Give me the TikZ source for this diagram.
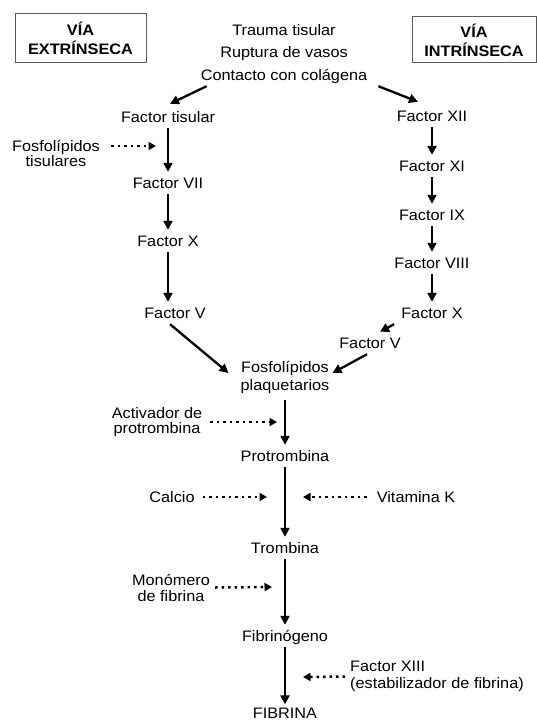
\documentclass[tikz,border=0pt]{standalone}
\usepackage{fontspec}
\setmainfont{Liberation Sans}[FakeStretch=1.07]
\usetikzlibrary{arrows.meta}
\begin{document}
\begin{tikzpicture}[x=1pt,y=-1pt,
  every node/.style={font=\fontsize{15.2}{18}\selectfont, inner xsep=1pt, inner ysep=5.5pt},
  lbl/.style={text height=11pt, text depth=0pt},
  multi/.style={align=center},
  arr/.style={line width=2.3pt, -{Triangle[length=9pt,width=9pt]}},
  dots/.style={line width=2.5pt, dash pattern=on 2.5pt off 4pt, -{Triangle[length=7.5pt,width=8pt]}},
  pathbox/.style={draw=black!65, line width=1pt, font=\fontsize{15.2}{19}\selectfont\bfseries, align=center, inner sep=0pt}
]
\fill[white] (0,0) rectangle (537,722);
\useasboundingbox (0,0) rectangle (537,722);

% pathway boxes
\node[pathbox, minimum width=131pt, minimum height=49pt] (extr) at (80.5,38.5) {VÍA\\EXTRÍNSECA};
\node[pathbox, minimum width=124pt, minimum height=46pt] (intr) at (474,40) {VÍA\\INTRÍNSECA};

% top texts
\node[lbl] (t1) at (284,30) {Trauma tisular};
\node[lbl] (t2) at (284,52) {Ruptura de vasos};
\node[lbl] (t3) at (284,75) {Contacto con colágena};

% extrinsic path
\node[lbl] (ftis) at (168,117) {Factor tisular};
\node[multi, font=\fontsize{15.2}{15.5}\selectfont] (fosft) at (56,153.5) {Fosfolípidos\\tisulares};
\node[lbl] (f7) at (168,183) {Factor VII};
\node[lbl] (f10l) at (168,241) {Factor X};
\node[lbl] (f5l) at (175,313) {Factor V};

% intrinsic path
\node[lbl] (f12) at (432,116) {Factor XII};
\node[lbl] (f11) at (432,166) {Factor XI};
\node[lbl] (f9) at (432,215) {Factor IX};
\node[lbl] (f8) at (432,263) {Factor VIII};
\node[lbl] (f10r) at (432,313) {Factor X};
\node[lbl] (f5r) at (370,343) {Factor V};

% common path
\node[multi, font=\fontsize{15.2}{18.5}\selectfont] (fosfp) at (285,377.5) {Fosfolípidos\\plaquetarios};
\node[multi, font=\fontsize{15.2}{15}\selectfont] (act) at (157,422) {Activador de\\protrombina};
\node[lbl] (prot) at (285,456) {Protrombina};
\node[lbl] (calc) at (172,497) {Calcio};
\node[lbl] (vitk) at (416,497) {Vitamina K};
\node[lbl] (trom) at (285,548) {Trombina};
\node[multi, font=\fontsize{15.2}{16}\selectfont] (mono) at (171,587.5) {Monómero\\de fibrina};
\node[lbl] (fibg) at (285,636) {Fibrinógeno};
\node[align=left, anchor=west, font=\fontsize{15.2}{17}\selectfont] (f13) at (349,676.5) {Factor XIII\\(estabilizador de fibrina)};
\node[lbl, inner ysep=3pt] (fib) at (285,713) {FIBRINA};

% free ends of dotted arrows
\coordinate (dfos) at (156,146);
\coordinate (dact) at (277,422);
\coordinate (dcal) at (267,497);
\coordinate (dvit) at (303,497);
\coordinate (dmon) at (272,587);
\coordinate (df13) at (303,677);

% diagonal arrows
\draw[arr] ([xshift=7pt]t3.south west) -- ([xshift=2pt,yshift=2pt]ftis.north);
\draw[arr] ([xshift=10pt]t3.south east) -- ([xshift=-14pt,yshift=3pt]f12.north);
\draw[arr] ([xshift=-6pt]f10r.south west) -- ([xshift=10pt]f5r.north);
\draw[arr] ([xshift=-5pt]f5l.south) -- ([xshift=-11pt,yshift=4.5pt]fosfp.west);
\draw[arr] ([xshift=-3pt]f5r.south) -- ([xshift=2pt,yshift=4.5pt]fosfp.east);

% vertical arrows
\draw[arr] (ftis.south) -- (f7.north);
\draw[arr] (f7.south) -- (f10l.north);
\draw[arr] (f10l.south) -- (f10l.south |- f5l.north);
\draw[arr] (f12.south) -- (f11.north);
\draw[arr] (f11.south) -- (f9.north);
\draw[arr] (f9.south) -- (f8.north);
\draw[arr] (f8.south) -- (f10r.north);
\draw[arr] (fosfp.south) -- (prot.north);
\draw[arr] (prot.south) -- (trom.north);
\draw[arr] (trom.south) -- (fibg.north);
\draw[arr] (fibg.south) -- (fib.north);

% dotted arrows
\draw[dots] ([xshift=10pt,yshift=7.5pt]fosft.east) -- (dfos);
\draw[dots] ([xshift=7pt]act.east) -- (dact);
\draw[dots] ([xshift=7pt]calc.east) -- (dcal);
\draw[dots] ([xshift=-9pt]vitk.west) -- (dvit);
\draw[dots] ([xshift=4pt]mono.east) -- (dmon);
\draw[dots] ([xshift=-4pt]f13.west) -- (df13);
\end{tikzpicture}
\end{document}
